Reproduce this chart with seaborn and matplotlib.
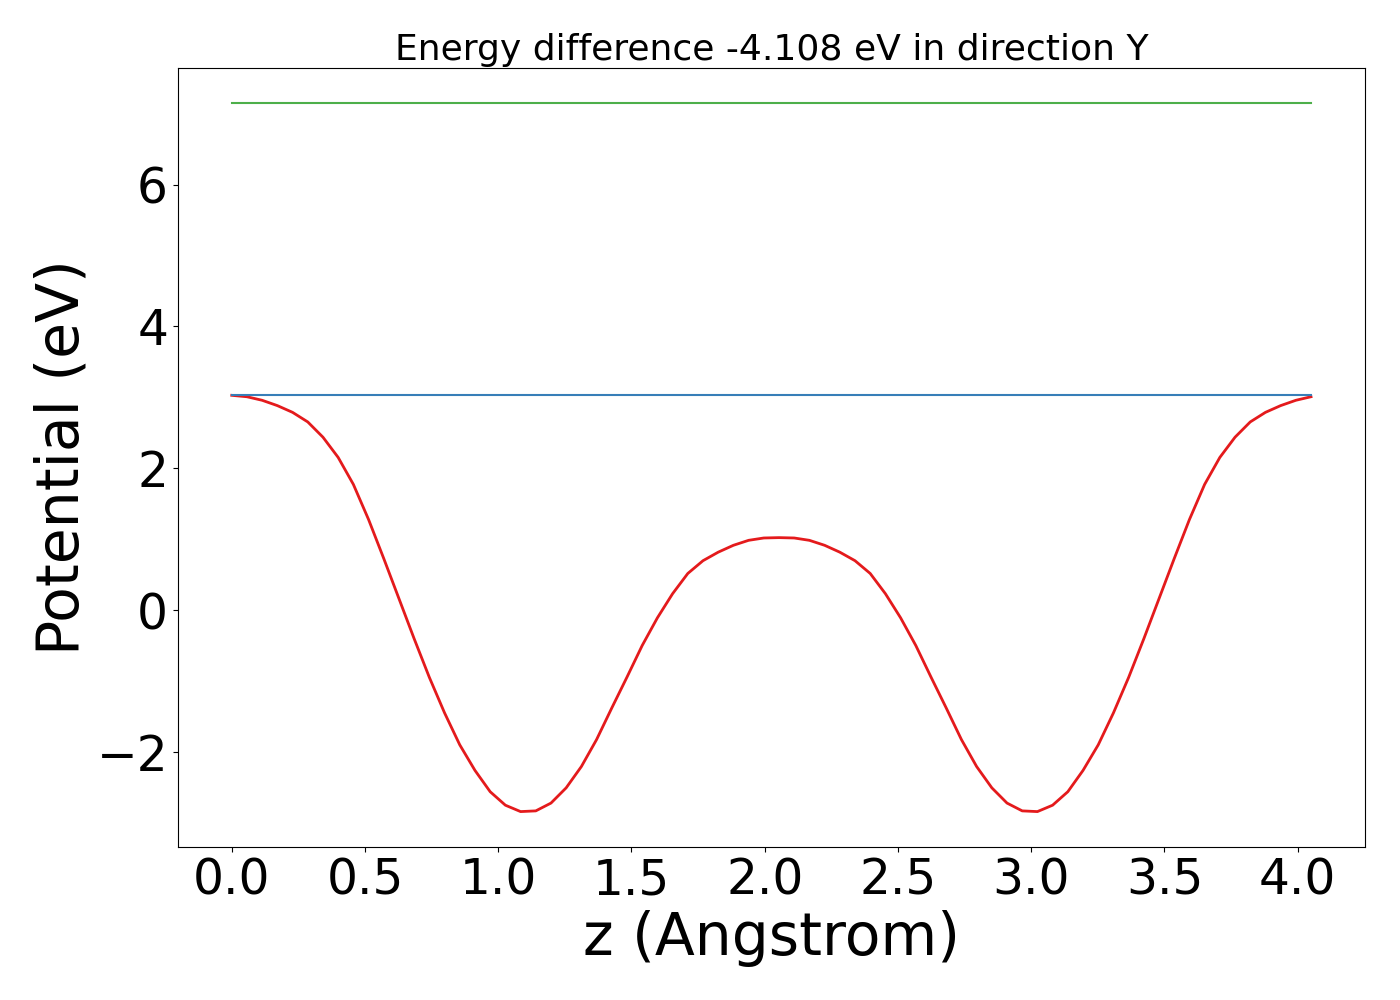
import numpy as np
import pandas as pd
import matplotlib
matplotlib.use("Agg")
import matplotlib.pyplot as plt
import seaborn as sns

# Data
z_max = 4.05
n_points = 72
potential = [
    3.03, 3.01, 2.96, 2.885, 2.79, 2.655, 2.44, 2.155, 1.775, 1.28,
    0.73, 0.165, -0.40, -0.945, -1.445, -1.895, -2.255, -2.555, -2.745, -2.835,
    -2.825, -2.715, -2.50, -2.20, -1.82, -1.375, -0.94, -0.495, -0.105, 0.235,
    0.52, 0.70, 0.82, 0.917, 0.987, 1.02, 1.025, 1.02, 0.987, 0.917,
    0.82, 0.70, 0.52, 0.235, -0.105, -0.495, -0.94, -1.375, -1.82, -2.20,
    -2.50, -2.715, -2.825, -2.835, -2.745, -2.555, -2.255, -1.895, -1.445, -0.945,
    -0.40, 0.165, 0.73, 1.28, 1.775, 2.155, 2.44, 2.655, 2.79, 2.885,
    2.96, 3.01,
]
level_low = 3.035
level_high = 7.143
title_text = "Energy difference -4.108 eV in direction Y"

z = np.linspace(0, z_max, n_points)
df = pd.DataFrame({"z": z, "V": potential})
df_low = pd.DataFrame({"z": [0, z_max], "V": [level_low, level_low]})
df_high = pd.DataFrame({"z": [0, z_max], "V": [level_high, level_high]})

plt.rcParams['font.family'] = ['DejaVu Sans']
fig, ax = plt.subplots(figsize=(14, 10), dpi=100)
fig.subplots_adjust(left=0.127, right=0.975, top=0.932, bottom=0.153)

sns.lineplot(data=df, x="z", y="V", ax=ax, color="#e41a1c", linewidth=2)
sns.lineplot(data=df_low, x="z", y="V", ax=ax, color="#377eb8", linewidth=1.5)
sns.lineplot(data=df_high, x="z", y="V", ax=ax, color="#4daf4a", linewidth=1.5)

ax.set_xticks([0.0, 0.5, 1.0, 1.5, 2.0, 2.5, 3.0, 3.5, 4.0])
ax.set_yticks([-2, 0, 2, 4, 6])
ax.tick_params(labelsize=35)
ax.set_xlabel("z (Angstrom)", fontsize=42)
ax.set_ylabel("Potential (eV)", fontsize=42)
ax.set_title(title_text, fontsize=26)

fig.savefig("out.png", dpi=100)
